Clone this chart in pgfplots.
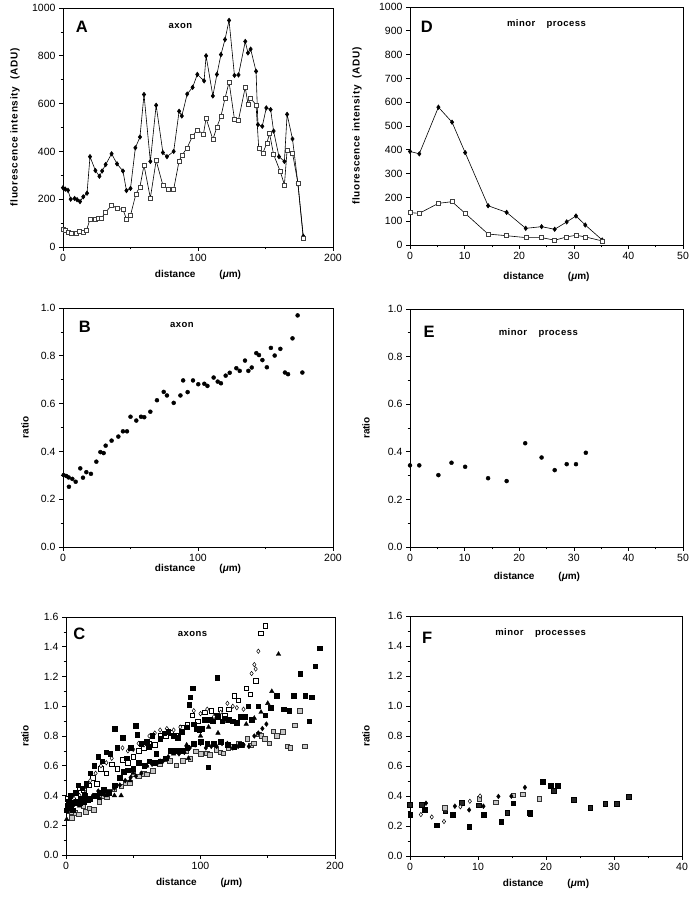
\documentclass[border=0pt]{standalone}
\usepackage{fontspec}
\setmainfont{Liberation Sans}
\usepackage{pgfplots}
\pgfplotsset{compat=1.18}

\tikzset{
  letter/.style={font=\bfseries\fontsize{16.5}{18}\selectfont},
  ttl/.style={font=\bfseries\fontsize{9.5}{11}\selectfont\addfontfeature{LetterSpace=5}},
}
\newcommand{\fluo}{{\addfontfeature{LetterSpace=7}fluorescence intensity\hspace{0.7em}(ADU)}}
\newcommand{\dist}{distance\hspace{2.4em}(\textit{μ}m)}
\pgfplotsset{
  panel/.style={
    scale only axis, anchor=south west,
    axis line style={line width=0.7pt},
    tick align=outside, xtick pos=left, ytick pos=left,
    major tick length=4pt, minor tick length=2.5pt,
    tick style={black, line width=0.6pt},
    ticklabel style={font=\fontsize{10.5}{12}\selectfont},
    label style={font=\bfseries\fontsize{10}{12}\selectfont},
    /pgf/number format/assume math mode=true,
    /pgf/number format/1000 sep={},
    clip=false,
  },
  ratiofmt/.style={yticklabel style={/pgf/number format/.cd, fixed, fixed zerofill, precision=1}},
  fsq/.style={only marks, mark=square*, mark size=2.3pt, mark options={fill=black, draw=black}},
  osq/.style={only marks, mark=square*, mark size=2.3pt, mark options={fill=white, draw=black, line width=0.5pt}},
  gsq/.style={only marks, mark=square*, mark size=2.3pt, mark options={fill=gray!45, draw=black!80, line width=0.5pt}},
  dsq/.style={only marks, mark=square*, mark size=2.3pt, mark options={fill=black!85, draw=black, line width=0.5pt}},
  odi/.style={only marks, mark=diamond*, mark size=2.2pt, mark options={fill=white, draw=black, line width=0.5pt}},
  fdi/.style={only marks, mark=diamond*, mark size=2.4pt, mark options={fill=black, draw=black}},
  ftr/.style={only marks, mark=triangle*, mark size=2.6pt, mark options={fill=black, draw=black}},
}

\begin{document}
\begin{tikzpicture}
\path[use as bounding box] (0pt,0pt) rectangle (695pt,899pt);

% ---------------- A ----------------
\begin{axis}[panel, at={(63pt,652pt)}, width=270pt, height=239pt,
  xmin=0, xmax=200, ymin=0, ymax=1000,
  xtick={0,100,200}, minor x tick num=1,
  ytick={0,200,...,1000}, minor y tick num=1,
  xlabel={\dist}, ylabel={\fluo},
  xlabel style={at={(axis description cs:0.5,-0.117)}, anchor=center},
  ylabel style={at={(axis description cs:-0.178,0.5)}, anchor=center},
]
\addplot[black, line width=0.6pt, mark=diamond*, mark size=2.2pt] coordinates {
(0,248)(1.7,242)(3.7,237)(5.7,200)(8.6,203)(10.4,198)(12.6,190)(15,210)(17.8,225)
(20,378)(24,320)(27,296)(29,318)(31.6,345)(36,390)(40,348)(44.4,318)(47,236)(50,245)
(53.6,415)(57,460)(60,638)(64.7,358)(69,593)(74,395)(77,378)(82,400)(86,568)(88,548)
(92,640)(96,668)(99.5,722)(104.5,695)(106,800)(111,632)(114,722)(117,805)(120,868)
(123,948)(127,718)(130,720)(135,860)(137,812)(139,828)(143,735)(144.4,512)(147.6,505)
(150.6,582)(153.8,575)(156,485)(160,378)(164,358)(166,555)(170,452)(174,265)(178,45)};
\addplot[black, line width=0.6pt, mark=square*, mark size=2pt, mark options={fill=white, draw=black!75, line width=0.5pt}] coordinates {
(0,75)(2,68)(4,60)(6,57)(9.8,57)(12,65)(14.8,60)(17.3,68)(20,116)(24,116)(26.4,120)
(28.6,122)(31.6,145)(36,175)(40,162)(44.4,157)(47,117)(50,132)(54,222)(57,252)(60,342)
(64.7,205)(69,362)(74,258)(78,242)(82,242)(86,360)(88,383)(92,415)(96,465)(99.5,490)
(104,472)(106,538)(111,450)(114,502)(117,547)(120,622)(123,690)(127,535)(130,532)
(135,668)(137,598)(139,622)(143,595)(145,412)(148,392)(151,435)(153,475)(156,387)
(161,315)(164,260)(166,405)(170,393)(174,268)(178,35)};
\node[letter] at (rel axis cs:0.07,0.92) {A};
\node[ttl] at (rel axis cs:0.435,0.925) {axon};
\end{axis}

% ---------------- D ----------------
\begin{axis}[panel, at={(410pt,654pt)}, width=273pt, height=238pt,
  xmin=0, xmax=50, ymin=0, ymax=1000,
  xtick={0,10,...,50}, minor x tick num=1,
  ytick={0,100,...,1000},
  xlabel={\dist}, ylabel={\fluo},
  xlabel style={at={(axis description cs:0.5,-0.134)}, anchor=center},
  ylabel style={at={(axis description cs:-0.194,0.5)}, anchor=center},
]
\addplot[black, line width=0.6pt, mark=diamond*, mark size=2.2pt] coordinates {
(0,393)(1.7,383)(5.2,579)(7.7,516)(10.1,388)(14.3,165)(17.7,137)(21.2,70)(24.1,77)
(26.5,66)(28.7,97)(30.4,122)(32.1,84)(35.2,21)};
\addplot[black, line width=0.6pt, mark=square*, mark size=2pt, mark options={fill=white, draw=black!75, line width=0.5pt}] coordinates {
(0,136)(1.7,133)(5.2,175)(7.7,182)(10.1,133)(14.3,46)(17.7,39)(21.2,31)(24.1,31)
(26.5,20)(28.7,34)(30.4,41)(32.1,34)(35.2,17)};
\node[letter] at (rel axis cs:0.062,0.916) {D};
\node[ttl] at (rel axis cs:0.50,0.93) {minor\hspace{1.2em}process};
\end{axis}

% ---------------- B ----------------
\begin{axis}[panel, ratiofmt, at={(63pt,352pt)}, width=270pt, height=239pt,
  xmin=0, xmax=200, ymin=0, ymax=1,
  xtick={0,100,200}, minor x tick num=1,
  ytick={0,0.2,...,1.0}, minor y tick num=1,
  xlabel={\dist}, ylabel={ratio},
  xlabel style={at={(axis description cs:0.5,-0.092)}, anchor=center},
  ylabel style={at={(axis description cs:-0.141,0.5)}, anchor=center},
]
\addplot[only marks, mark=*, mark size=2pt] coordinates {
(0.5,0.301)(2.5,0.297)(4.2,0.291)(4.4,0.252)(6.9,0.285)(9.4,0.273)(12.8,0.329)(14.8,0.290)
(17.3,0.313)(20.7,0.306)(24.7,0.357)(27.7,0.397)(30.1,0.393)(31.6,0.424)(36,0.445)
(41,0.462)(44.4,0.484)(47.4,0.484)(50,0.545)(54.3,0.529)(57.8,0.545)(60.2,0.543)
(64.7,0.566)(69.6,0.614)(74.6,0.649)(77,0.634)(82,0.603)(87,0.634)(89,0.697)(92.3,0.648)
(96.3,0.697)(100.2,0.681)(104.7,0.683)(107,0.674)(111.6,0.709)(114.6,0.692)(117,0.685)
(120.5,0.717)(123.5,0.729)(128.4,0.748)(130.9,0.737)(134.8,0.780)(137.3,0.737)(139.8,0.751)
(143.2,0.811)(145.2,0.803)(147.7,0.782)(151,0.752)(154,0.833)(156.8,0.801)(161,0.829)
(164.4,0.730)(166.7,0.723)(170,0.873)(173.8,0.969)(177.3,0.730)};
\node[letter] at (rel axis cs:0.081,0.92) {B};
\node[ttl] at (rel axis cs:0.44,0.93) {axon};
\end{axis}

% ---------------- E ----------------
\begin{axis}[panel, ratiofmt, at={(410pt,352pt)}, width=273pt, height=238pt,
  xmin=0, xmax=50, ymin=0, ymax=1,
  xtick={0,10,...,50}, minor x tick num=1,
  ytick={0,0.2,...,1.0}, minor y tick num=1,
  xlabel={\dist}, ylabel={ratio},
  xlabel style={at={(axis description cs:0.465,-0.126)}, anchor=center},
  ylabel style={at={(axis description cs:-0.161,0.5)}, anchor=center},
]
\addplot[only marks, mark=*, mark size=2pt] coordinates {
(0,0.343)(1.7,0.343)(5.2,0.302)(7.6,0.354)(10.1,0.337)(14.3,0.289)(17.7,0.277)
(21.1,0.436)(24.1,0.376)(26.5,0.323)(28.7,0.348)(30.4,0.348)(32.2,0.396)};
\node[letter] at (rel axis cs:0.07,0.906) {E};
\node[ttl] at (rel axis cs:0.47,0.90) {minor\hspace{1.2em}process};
\end{axis}

% ---------------- C ----------------
\begin{axis}[panel, ratiofmt, at={(66pt,44pt)}, width=269pt, height=238pt,
  xmin=0, xmax=200, ymin=0, ymax=1.6,
  xtick={0,100,200}, minor x tick num=1,
  ytick={0,0.2,...,1.6}, minor y tick num=1,
  xlabel={\dist}, ylabel={ratio},
  xlabel style={at={(axis description cs:0.495,-0.118)}, anchor=center},
  ylabel style={at={(axis description cs:-0.152,0.5)}, anchor=center},
]
% gray squares (same axon as B)
\addplot[gsq] coordinates {
(0.5,0.301)(2.5,0.297)(4.2,0.291)(4.4,0.252)(6.9,0.285)(9.4,0.273)(12.8,0.329)(14.8,0.290)
(17.3,0.313)(20.7,0.306)(24.7,0.357)(27.7,0.397)(30.1,0.393)(31.6,0.424)(36,0.445)
(41,0.462)(44.4,0.484)(47.4,0.484)(50,0.545)(54.3,0.529)(57.8,0.545)(60.2,0.543)
(64.7,0.566)(69.6,0.614)(74.6,0.649)(77,0.634)(82,0.603)(87,0.634)(89,0.697)(92.3,0.648)
(96.3,0.697)(100.2,0.681)(104.7,0.683)(107,0.674)(111.6,0.709)(114.6,0.692)(117,0.685)
(120.5,0.717)(123.5,0.729)(128.4,0.748)(130.9,0.737)(134.8,0.780)(137.3,0.737)(139.8,0.751)
(143.2,0.811)(145.2,0.803)(147.7,0.782)(151,0.752)(154,0.833)(156.8,0.801)(161,0.829)
(164.4,0.730)(166.7,0.723)(170,0.873)(173.8,0.969)(177.3,0.730)};
% open squares
\addplot[osq] coordinates {
(1,0.38)(4,0.40)(7,0.35)(10,0.45)(13,0.44)(17,0.47)(20,0.52)(23,0.48)(26,0.58)(30,0.55)
(34,0.61)(38,0.58)(42,0.64)(46,0.62)(50,0.66)(54,0.70)(58,0.72)(62,0.75)(66,0.74)(70,0.80)
(74,0.80)(78,0.82)(82,0.80)(86,0.86)(90,0.88)(94,0.94)(98,0.90)(103,0.96)(108,0.97)
(112,0.94)(114.6,0.98)(118,0.94)(121,0.98)(125,1.07)(128,1.04)(134,1.12)(137,1.08)
(141,1.17)(145,1.49)(148,1.54)};
% open diamonds
\addplot[odi] coordinates {
(2,0.36)(6,0.38)(10,0.40)(14,0.44)(18,0.50)(22,0.55)(26,0.60)(30,0.62)(34,0.65)(38,0.72)
(42,0.72)(46,0.70)(50,0.71)(54,0.75)(58,0.74)(62,0.80)(66,0.82)(70,0.84)(75,0.85)
(80,0.84)(85,0.86)(90,0.86)(95,0.97)(100,0.95)(105,0.98)(110,0.93)(115,0.96)(120,1.02)
(124,1.00)(127,0.99)(132,0.98)(138,1.22)(140,1.28)(141,1.25)(143,1.37)};
% filled diamonds
\addplot[fdi] coordinates {
(3,0.33)(6,0.34)(10,0.35)(15,0.38)(20,0.40)(24,0.43)(28,0.41)(32,0.42)(36,0.45)(40,0.47)
(44,0.50)(48,0.52)(52,0.53)(56,0.55)(60,0.60)(64,0.61)(68,0.62)(72,0.63)(76,0.66)(80,0.70)
(84,0.68)(88,0.69)(92,0.72)(96,0.74)(100,0.75)(104,0.72)(108,0.73)(112,0.73)(116,0.75)
(120,0.75)(124,0.72)(128,0.73)(132,0.74)(136,0.73)(140,0.80)(143,0.82)(146,0.85)
(149,0.88)(152,0.99)};
% triangles
\addplot[ftr] coordinates {
(0.5,0.24)(10,0.33)(25,0.38)(30,0.40)(36,0.40)(41,0.40)(47.6,0.50)(50,0.55)(60,0.60)
(70,0.63)(80,0.68)(89.7,0.74)(91,0.65)(100,0.80)(106,0.86)(113,0.82)(120,0.90)(130,0.92)
(134,0.88)(140,0.92)(145,0.96)(150,1.02)(153,1.10)(158,1.35)};
% filled squares (upper)
\addplot[fsq] coordinates {
(0,0.30)(1,0.33)(2,0.36)(3,0.40)(5,0.30)(7,0.42)(9,0.47)(12,0.45)(15,0.48)(18,0.55)
(21,0.60)(24,0.66)(27,0.63)(30,0.69)(33,0.68)(36,0.85)(38,0.72)(42,0.79)(45,0.65)(48,0.72)
(52,0.87)(53,0.81)(56,0.75)(60,0.76)(62,0.73)(64,0.80)(67,0.68)(70,0.78)(73,0.82)(76,0.83)
(80,0.80)(83,0.79)(86,0.83)(90,0.86)(91.7,1.01)(92.2,1.06)(94,1.12)(95,0.88)(97,0.85)
(99,0.84)(101,0.85)(103,0.91)(105.8,0.59)(107,0.91)(109,0.90)(112.3,1.19)(113,0.93)
(116,0.90)(118,0.92)(121,0.91)(124,0.90)(127,0.89)(130,0.93)(133,0.93)(135.5,1.0)
(138,0.91)(143,1.0)(148,0.94)(152,0.99)(156.6,1.07)(162,0.98)(166,0.97)(169.5,1.07)
(174,1.22)(177.7,1.07)(180.7,0.90)(182.7,1.06)(185.2,1.27)(188.6,1.39)};
% filled squares (lower band)
\addplot[fsq] coordinates {
(2,0.32)(4,0.34)(6,0.35)(8,0.36)(10,0.35)(11,0.38)(13,0.36)(14,0.40)(16,0.37)(18,0.38)
(22,0.40)(25,0.42)(28,0.44)(32,0.42)(36,0.47)(40,0.52)(43,0.56)(46,0.57)(50,0.58)(54,0.62)
(58,0.60)(62,0.63)(66,0.62)(70,0.63)(74,0.65)(78,0.70)(82,0.70)(86,0.70)(90,0.72)(95,0.75)
(100,0.76)(105,0.75)(110,0.75)(115,0.76)(120,0.74)(125,0.73)(130,0.74)};
\node[letter] at (rel axis cs:0.05,0.93) {C};
\node[ttl] at (rel axis cs:0.47,0.93) {axons};
\end{axis}

% ---------------- F ----------------
\begin{axis}[panel, ratiofmt, at={(410pt,43pt)}, width=272pt, height=240pt,
  xmin=0, xmax=40, ymin=0, ymax=1.6,
  xtick={0,10,...,40}, minor x tick num=1,
  ytick={0,0.2,...,1.6}, minor y tick num=1,
  xlabel={\dist}, ylabel={ratio},
  xlabel style={at={(axis description cs:0.5,-0.117)}, anchor=center},
  ylabel style={at={(axis description cs:-0.162,0.5)}, anchor=center},
]
\addplot[dsq] coordinates {
(0,0.343)(1.7,0.343)(5.2,0.302)(7.6,0.354)(10.1,0.337)(14.3,0.289)(17.7,0.277)
(21.1,0.436)(24.1,0.376)(26.5,0.323)(28.7,0.348)(30.4,0.348)(32.2,0.396)};
\addplot[fsq] coordinates {
(0,0.276)(2.2,0.308)(3.9,0.205)(6.3,0.274)(8.7,0.196)(10.8,0.274)(13.4,0.227)
(15.2,0.352)(17.6,0.290)(19.5,0.495)(20.7,0.468)(21.7,0.468)};
\addplot[gsq] coordinates {
(5.1,0.323)(10.2,0.383)(12.6,0.357)(15.2,0.406)(16.6,0.412)(19,0.383)};
\addplot[odi] coordinates {
(1.6,0.276)(3.2,0.26)(5.0,0.23)(7.4,0.328)(8.8,0.365)(10.3,0.40)};
\addplot[fdi] coordinates {
(2.35,0.352)(6.6,0.332)(8.7,0.307)(10.8,0.332)(13.0,0.397)(14.9,0.399)(16.9,0.457)};
\node[letter] at (rel axis cs:0.063,0.91) {F};
\node[ttl] at (rel axis cs:0.48,0.93) {minor\hspace{1.2em}processes};
\end{axis}
\end{tikzpicture}
\end{document}
